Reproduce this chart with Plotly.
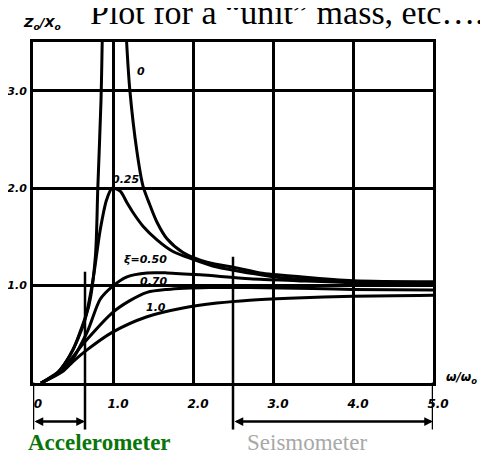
import plotly.graph_objects as go

# ---- data ----
omega_z0_left = [0.1, 0.3, 0.5, 0.6, 0.7, 0.78, 0.81, 0.85, 0.865]
mag_z0_left = [0.0, 0.1, 0.34, 0.55, 0.8, 1.3, 2.0, 2.9, 3.5]
omega_z0_right = [1.17, 1.21, 1.3, 1.375, 1.46, 1.55, 1.675, 1.875, 2.175, 2.55, 2.84, 3.34, 4.0, 5.0]
mag_z0_right = [3.5, 3.01, 2.37, 2.02, 1.83, 1.65, 1.48, 1.34, 1.24, 1.18, 1.13, 1.09, 1.05, 1.04]

omega_z025 = [0.1, 0.3, 0.43, 0.56, 0.65, 0.75, 0.84, 0.92, 0.99, 1.09, 1.175, 1.25, 1.375,
              1.55, 1.75, 2.0, 2.3, 2.7, 3.1, 4.0, 5.0]
mag_z025 = [0.0, 0.1, 0.24, 0.45, 0.65, 1.06, 1.57, 1.88, 2.0, 1.97, 1.85, 1.75, 1.61,
            1.47, 1.35, 1.27, 1.19, 1.13, 1.08, 1.04, 1.03]

omega_z05 = [0.1, 0.43, 0.675, 0.84, 0.99, 1.175, 1.425, 1.675, 2.09, 2.71, 3.3, 4.0, 5.0]
mag_z05 = [0.0, 0.17, 0.52, 0.86, 0.99, 1.09, 1.13, 1.13, 1.11, 1.07, 1.05, 1.03, 1.02]

omega_z07 = [0.1, 0.375, 0.625, 0.99, 1.2, 1.425, 1.675, 2.2, 2.71, 3.5, 4.0, 5.0]
mag_z07 = [0.0, 0.15, 0.4, 0.72, 0.84, 0.93, 0.96, 0.98, 0.98, 0.97, 0.96, 0.955]

omega_z10 = [0.1, 0.375, 0.5, 0.675, 0.99, 1.425, 1.875, 2.3, 2.71, 3.2, 4.0, 5.0]
mag_z10 = [0.0, 0.12, 0.22, 0.34, 0.52, 0.68, 0.77, 0.82, 0.85, 0.87, 0.89, 0.9]

x_tickvals = [0, 1, 2, 3, 4, 5]
x_ticktext = ["0", "1.0", "2.0", "3.0", "4.0", "5.0"]
y_tickvals = [1, 2, 3]
y_ticktext = ["1.0", "2.0", "3.0"]

curve_labels = ["0", "0.25", "ξ=0.50", "0.70", "1.0"]
curve_label_x = [1.35, 1.15, 1.4, 1.51, 1.54]
curve_label_y = [3.2, 2.09, 1.27, 1.04, 0.77]

accel_end = 0.65
seismo_start = 2.5

# ---- figure ----
# the page body adds an 8px margin, so margins are reduced by 8px to compensate
hand = dict(family="DejaVu Sans", size=11, color="black", weight="bold", style="italic")
line_style = dict(color="black", width=3, shape="spline", smoothing=0.8)

fig = go.Figure()
for xs, ys in [(omega_z0_left, mag_z0_left), (omega_z0_right, mag_z0_right),
               (omega_z025, mag_z025), (omega_z05, mag_z05),
               (omega_z07, mag_z07), (omega_z10, mag_z10)]:
    fig.add_trace(go.Scatter(x=xs, y=ys, mode="lines", line=line_style,
                             showlegend=False, hoverinfo="skip"))

fig.update_layout(
    width=488, height=454,
    margin=dict(l=25, r=63, t=34, b=78.6, autoexpand=False),
    paper_bgcolor="white", plot_bgcolor="white",
    showlegend=False,
)
fig.update_xaxes(range=[0, 5], tickvals=x_tickvals, ticktext=x_ticktext, automargin=False,
                 showgrid=True, gridcolor="black", gridwidth=2.5, zeroline=False,
                 showline=True, linecolor="black", linewidth=3, mirror=True,
                 ticks="", tickfont=dict(hand, size=12), ticklabelstandoff=8, ticklabelshift=5)
fig.update_yaxes(range=[0, 3.5], tickvals=y_tickvals, ticktext=y_ticktext, automargin=False,
                 showgrid=True, gridcolor="black", gridwidth=2.5, zeroline=False,
                 showline=True, linecolor="black", linewidth=3, mirror=True,
                 ticks="", tickfont=hand, ticklabelstandoff=1)

# curve labels
for t, x, y in zip(curve_labels, curve_label_x, curve_label_y):
    fig.add_annotation(x=x, y=y, xref="x", yref="y", text=t, showarrow=False,
                       xanchor="center", yanchor="middle",
                       font=dict(family="DejaVu Sans", size=11, color="black",
                                 weight="bold", style="italic"))

# axis titles (hand-written style)
fig.add_annotation(x=0.0225, y=1.053, xref="paper", yref="paper", xanchor="center",
                   yanchor="middle", text="Z<sub>o</sub>/X<sub>o</sub>", showarrow=False,
                   font=dict(family="DejaVu Sans", size=13, color="black",
                             weight="bold", style="italic"))
fig.add_annotation(x=1.072, y=0.016, xref="paper", yref="paper", xanchor="center",
                   yanchor="middle", text="ω/ω<sub>o</sub>", showarrow=False,
                   font=dict(family="DejaVu Sans", size=12, color="black",
                             weight="bold", style="italic"))

# top slide text (cut off at top, as in the reference)
fig.add_annotation(x=0.1375, y=1.086, xref="paper", yref="paper", xanchor="left",
                   yanchor="middle", text="Plot for a “unit” mass, etc….", showarrow=False,
                   font=dict(family="Liberation Serif", size=34, color="black"))
fig.add_annotation(x=0.065, y=1.125, xref="paper", yref="paper", xanchor="center",
                   yanchor="middle", text="➢", showarrow=False,
                   font=dict(family="DejaVu Sans", size=20, color="black"))

# range brackets
def yp(px):
    return (383.4 - px) / 341.4

bracket_bottom = yp(430)
bracket_y = yp(422)
shapes = [
    (0, yp(383), 0, bracket_bottom),
    (accel_end, yp(272), accel_end, bracket_bottom),
    (seismo_start, yp(257), seismo_start, bracket_bottom),
    (5, yp(383), 5, bracket_bottom),
]
for x0, y0, x1, y1 in shapes:
    fig.add_shape(type="line", xref="x", yref="paper", x0=x0, y0=y0, x1=x1, y1=y1,
                  line=dict(color="black", width=2.5))
for xa, xb in [(0, accel_end), (seismo_start, 5)]:
    fig.add_annotation(x=xb, y=bracket_y, xref="x", yref="paper",
                       ax=xa, ay=0, axref="x", ayref="pixel", text="",
                       showarrow=True, arrowhead=2, arrowside="end+start",
                       arrowsize=0.7, arrowwidth=2.5, arrowcolor="black")

fig.add_annotation(x=0.165, y=yp(443), xref="paper", yref="paper", xanchor="center",
                   yanchor="middle", text="<b>Accelerometer</b>", showarrow=False,
                   font=dict(family="Liberation Serif", size=23, color="#0a760a"))
fig.add_annotation(x=0.684, y=yp(443), xref="paper", yref="paper", xanchor="center",
                   yanchor="middle", text="Seismometer", showarrow=False,
                   font=dict(family="Liberation Serif", size=23, color="#a8a8a8"))

fig.write_html("out.html")
